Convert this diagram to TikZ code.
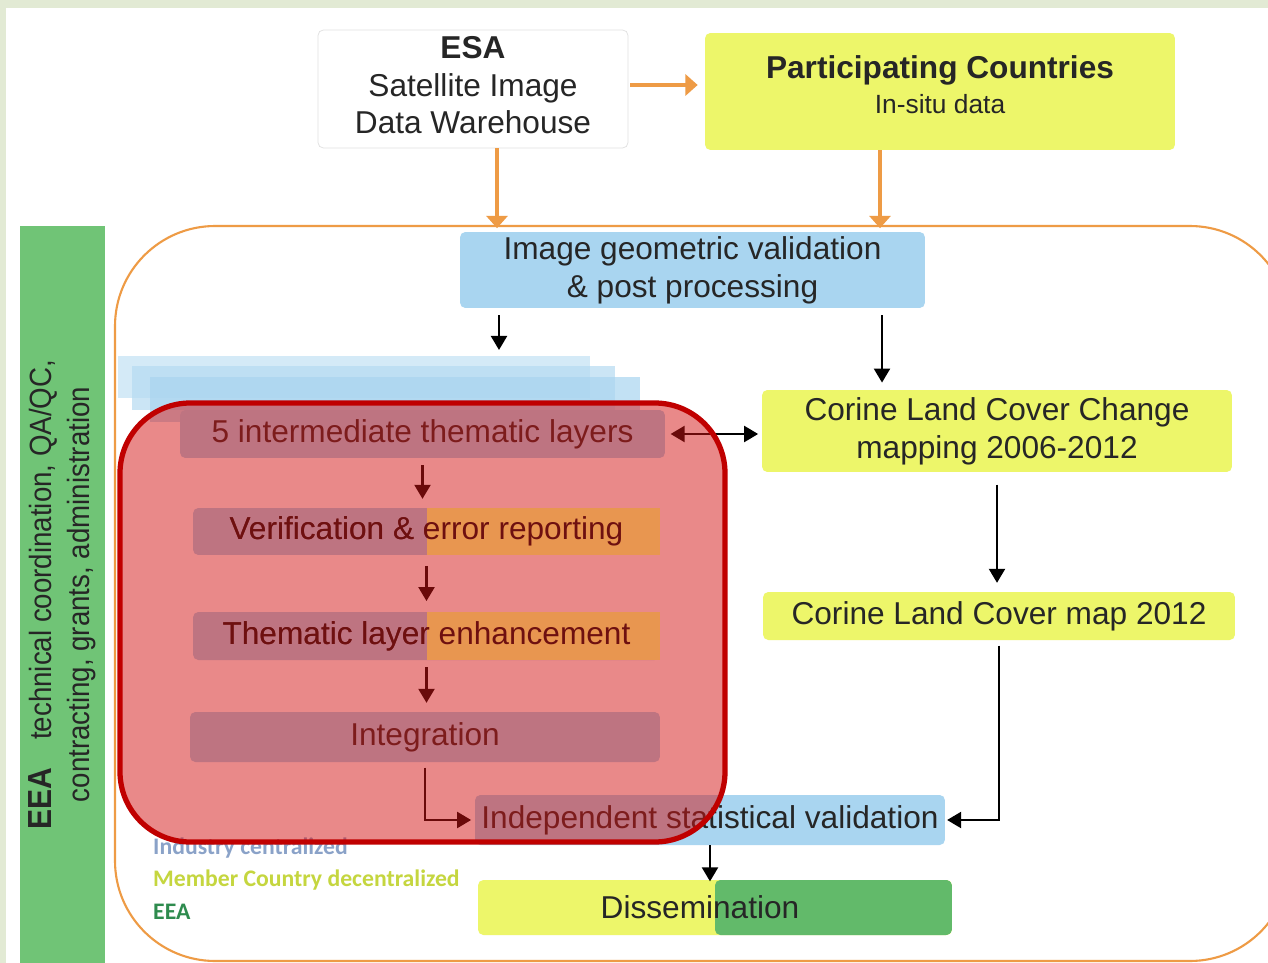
\documentclass[tikz,border=0pt]{standalone}
\usepackage{fontspec}
\setmainfont{Liberation Sans}
\newfontfamily\legendfont{Carlito}
\newfontfamily\barfont[FakeStretch=0.9]{Liberation Sans}
\usepackage{tikz}
\usetikzlibrary{positioning, arrows.meta, calc}

\definecolor{framegreen}{HTML}{E2EAD4}
\definecolor{skyblue}{HTML}{A9D5F0}
\definecolor{clcyellow}{HTML}{EDF66A}
\definecolor{eeagreen}{HTML}{70C476}
\definecolor{dissgreen}{HTML}{62BA6A}
\definecolor{lineorange}{HTML}{EE9B45}
\definecolor{boxorange}{HTML}{E89650}
\definecolor{overlayred}{HTML}{D41414}
\definecolor{edgered}{HTML}{C00000}
\definecolor{darkred}{HTML}{6E1010}
\definecolor{legblue}{HTML}{8AA2C8}
\definecolor{legyellow}{HTML}{C5D63F}
\definecolor{leggreen}{HTML}{2E8B4E}

\begin{document}
\begin{tikzpicture}[
  x=0.02cm, y=-0.02cm,
  font=\fontsize{18}{21.5}\selectfont,
  box/.style={rounded corners=3pt, align=center, inner sep=1pt, text=black!85},
  bluebox/.style={box, fill=skyblue},
  yellowbox/.style={box, fill=clcyellow},
  arrow/.style={-{Triangle[length=8pt,width=9pt]}, line width=1.6pt},
  orangearrow/.style={-{Triangle[length=7pt,width=12pt]}, line width=2.2pt, draw=lineorange},
  legend/.style={anchor=west, font=\legendfont\bfseries\fontsize{13.5}{16}\selectfont},
]
  \useasboundingbox (0,0) rectangle (1268,963);
  \clip (0,0) rectangle (1268,963);
  \fill[framegreen] (0,0) rectangle (1268,963);
  \fill[white] (6,8) rectangle (1268,963);

  % orange frame round the production chain
  \draw[lineorange, line width=1.2pt, rounded corners=57pt] (115,226) rectangle (1290,961);

  \node[fill=eeagreen, rotate=90, minimum width=14.74cm, minimum height=1.7cm, inner sep=0pt,
        align=center, text=black!85, font=\barfont\fontsize{17.5}{21.5}\selectfont] (eeabar) at (62.5,594.5)
        {{\fontsize{19}{21.5}\selectfont\bfseries EEA}\hspace{0.9em}technical coordination, QA/QC,\\contracting, grants, administration};

  \node[box, fill=white, draw=black!12, minimum width=6.2cm, minimum height=2.36cm] (esa) at (473,89)
        {\textbf{ESA}\\Satellite Image\\Data Warehouse\\[-17pt]};
  \node[yellowbox, minimum width=9.4cm, minimum height=2.34cm] (pc) at (940,91.5)
        {\textbf{Participating Countries}\\[-1.5pt]{\fontsize{15}{17}\selectfont In-situ data}\\[-14pt]};
  \node[bluebox, minimum width=9.3cm, minimum height=1.52cm] (geo) at (692.5,270)
        {Image geometric validation\\\& post processing};

  % stacked thematic layers
  \fill[skyblue!70, opacity=.7] (118,356) rectangle (590,398);
  \fill[skyblue!85, opacity=.7] (132,366) rectangle (615,410);
  \fill[skyblue, opacity=.7] (150,377) rectangle (640,422);
  \node[bluebox, minimum width=9.7cm, minimum height=0.96cm] (layers) at (422.5,434) {5 intermediate thematic layers};
  \node[bluebox, minimum width=9.34cm, minimum height=0.94cm] (verif) at (426.5,531.5) {Verification \& error reporting};
  \node[bluebox, minimum width=9.34cm, minimum height=0.96cm] (enh) at (426.5,636) {Thematic layer enhancement};
  \node[bluebox, minimum width=9.4cm, minimum height=1.0cm] (integ) at (425,737) {Integration};

  \node[yellowbox, minimum width=9.4cm, minimum height=1.64cm] (clcc) at (997,431)
        {Corine Land Cover Change\\mapping 2006-2012};
  \node[yellowbox, minimum width=9.44cm, minimum height=0.96cm] (clc12) at (999,616) {Corine Land Cover map 2012};
  \node[bluebox, minimum width=9.4cm, minimum height=1.0cm] (isv) at (710,820) {Independent statistical validation};
  \node[yellowbox, minimum width=9.48cm, minimum height=1.1cm,
        path picture={\fill[dissgreen] (path picture bounding box.north) rectangle (path picture bounding box.south east);}]
        (diss) at (715,907.5) {Dissemination\hspace*{0.6cm}};

  \node[legend, text=legblue] (leg1) at (147,848) {Industry centralized};
  \node[legend, text=legyellow] (leg2) at (147,880) {Member Country decentralized};
  \node[legend, text=leggreen] (leg3) at (147,912) {EEA};

  \coordinate (esaright) at ($(esa.east)+(2,-4)$);
  \coordinate (esaout) at ($(esa.south)+(24,0)$);
  \coordinate (pcout) at ($(pc.south)+(-60,0)$);
  \coordinate (geoleft) at ($(geo.south)+(-193.5,7)$);
  \coordinate (georight) at ($(geo.south)+(189.5,7)$);
  \coordinate (stacktop) at (499,350);

  \draw[orangearrow, shorten >=4pt] (esaright) -- (esaright -| pc.west);
  \draw[orangearrow, shorten >=2pt] (esaout) -- (esaout |- geo.north);
  \draw[orangearrow, shorten >=2pt] (pcout) -- (pcout |- geo.north);

  \draw[arrow] (geoleft) -- (stacktop);
  \draw[arrow, shorten >=4pt] (georight) -- (georight |- clcc.north);
  \draw[arrow, {Triangle[length=8pt,width=9pt]}-{Triangle[length=8pt,width=9pt]}, shorten <=3pt, shorten >=2pt]
        (layers.east) -- (layers.east -| clcc.west);
  \draw[arrow, shorten <=4pt, shorten >=5pt] (layers.south) -- (layers.south |- verif.north);
  \draw[arrow, shorten <=6pt, shorten >=6pt] (verif.south) -- (verif.south |- enh.north);
  \draw[arrow, shorten <=4pt, shorten >=5pt] (enh.south) -- (enh.south |- integ.north);
  \draw[arrow, shorten <=3pt, shorten >=2pt] (integ.south) |- (isv.west);
  \draw[arrow, shorten <=7pt, shorten >=5pt] (clcc.south) -- (clcc.south |- clc12.north);
  \draw[arrow, shorten <=3pt, shorten >=1pt] (clc12.south) |- (isv.east);
  \draw[arrow, shorten >=-1pt] (isv.south) -- (isv.south |- diss.north);

  % red overlay
  \draw[edgered, line width=3pt, fill=overlayred, fill opacity=.5, rounded corners=40pt] (120,403) rectangle (725,842);

  \fill[boxorange] (verif.north) rectangle (verif.south east);
  \node[text=darkred] (veriftext) at (verif) {Verification \& error reporting};
  \fill[boxorange] (enh.north) rectangle (enh.south east);
  \node[text=darkred] (enhtext) at (enh) {Thematic layer enhancement};
\end{tikzpicture}
\end{document}
